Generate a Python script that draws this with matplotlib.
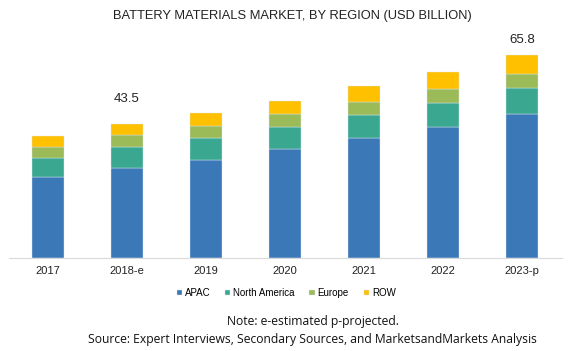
import numpy as np
import matplotlib.pyplot as plt

years = ['2017', '2018-e', '2019', '2020', '2021', '2022', '2023-p']
apac = [26.2, 29.2, 31.9, 35.3, 38.9, 42.5, 46.9]
north_america = [6.4, 6.7, 7.1, 7.2, 7.6, 8.0, 8.4]
europe = [3.6, 3.9, 3.9, 4.2, 4.3, 4.4, 4.5]
row = [3.5, 3.7, 4.2, 4.4, 4.9, 5.4, 6.0]
labels = {1: '43.5', 6: '65.8'}

colors = ['#3a78b7', '#3aa891', '#9bbb59', '#ffc000']
names = ['APAC', 'North America', 'Europe', 'ROW']

plt.rcParams['font.family'] = ['Liberation Sans', 'DejaVu Sans']

fig = plt.figure(figsize=(5.84, 3.51), dpi=100)
ax = fig.add_axes([8.5 / 584, 93 / 351, 553 / 584, 218 / 351])

x = np.arange(len(years))
bottom = np.zeros(len(years))
for vals, c, n in zip([apac, north_america, europe, row], colors, names):
    ax.bar(x, vals, 0.4, bottom=bottom, color=c, label=n,
           edgecolor='#dce6f0', linewidth=0.3)
    bottom += np.array(vals)

# totals on two bars
pads = {1: 14, 6: 7}
for i, t in labels.items():
    ax.annotate(t, (x[i], bottom[i]), xytext=(0, pads[i]), textcoords='offset points',
                ha='center', va='bottom', fontsize=9.5, color='#222222')

ax.set_xlim(-0.5, len(years) - 0.5)
ax.set_ylim(0, 70.8)
ax.set_xticks(x)
ax.set_xticklabels(years, fontsize=8, color='#222222')
ax.set_yticks([])
for s in ['top', 'right', 'left']:
    ax.spines[s].set_visible(False)
ax.spines['bottom'].set_color('#d9d9d9')
ax.tick_params(axis='x', length=0, pad=6)

fig.text(0.5, 1 - 16 / 351, 'BATTERY MATERIALS MARKET, BY REGION (USD BILLION)',
         ha='center', va='center', fontsize=9.3, color='#222222')

fig.legend(loc='center', bbox_to_anchor=(0.49, 1 - 293 / 351), ncol=4, frameon=False,
           fontsize=7, handlelength=0.55, handleheight=0.55, handletextpad=0.3,
           columnspacing=1.5)

fig.text(0.535, 1 - 322 / 351, 'Note: e-estimated p-projected.', ha='center', va='center',
         fontsize=8.7, family=['Open Sans', 'DejaVu Sans'], color='#111111')
fig.text(0.535, 1 - 340 / 351,
         'Source: Expert Interviews, Secondary Sources, and MarketsandMarkets Analysis',
         ha='center', va='center', fontsize=8.7, family=['Open Sans', 'DejaVu Sans'],
         color='#111111')

fig.savefig('out.png', dpi=100)
